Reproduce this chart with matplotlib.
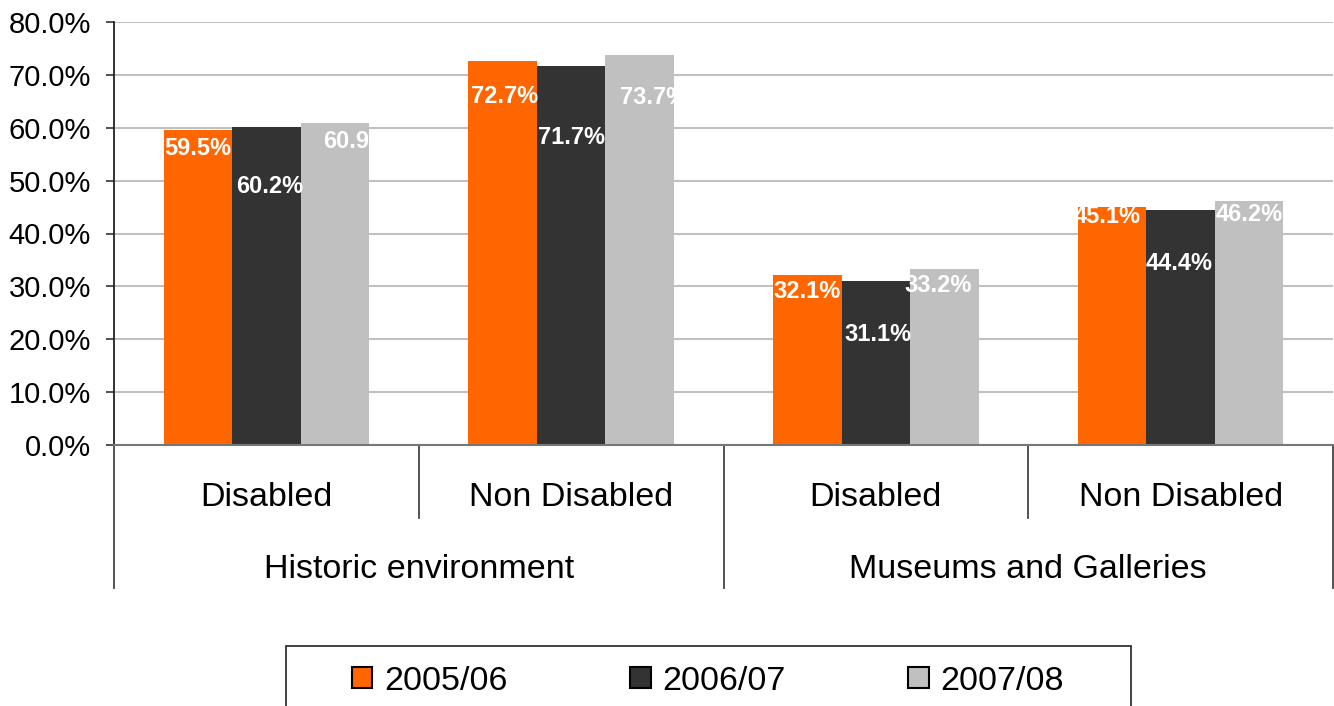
import numpy as np
import matplotlib.pyplot as plt
from matplotlib.patches import Patch, Rectangle
from matplotlib.ticker import FuncFormatter
import matplotlib.transforms as mtransforms

plt.rcParams['font.family'] = ['Liberation Sans', 'DejaVu Sans']

# data
groups = ["Historic environment", "Museums and Galleries"]
subcats = ["Disabled", "Non Disabled", "Disabled", "Non Disabled"]
series = ["2005/06", "2006/07", "2007/08"]
vals_0506 = [59.5, 72.7, 32.1, 45.1]
vals_0607 = [60.2, 71.7, 31.1, 44.4]
vals_0708 = [60.9, 73.7, 33.2, 46.2]

colors = ["#FF6600", "#333333", "#C0C0C0"]
# label nudges in pixels (below bar top, sideways) - labels were hand placed
lab_dy = [[18, 36, 16, 10], [60, 72, 54, 53], [19, 42, 16, 14]]
lab_dx = [[0, 2, 0, -5], [3, 0, 2, -2], [22, 14, -6, 0]]

W, H = 1334, 706
fig = plt.figure(figsize=(W / 100, H / 100), dpi=100)
ax = fig.add_axes([114 / W, 1 - 445 / H, 1219 / W, 423 / H])

x = np.arange(len(subcats))
bw = 0.225
px2pt = 0.72

for i, vals in enumerate([vals_0506, vals_0607, vals_0708]):
    xs = x + (i - 1) * bw
    ax.bar(xs, np.array(vals) / 100, width=bw, color=colors[i], zorder=2, label=series[i])
    for j, v in enumerate(vals):
        ax.annotate(f"{v:.1f}%", (xs[j], v / 100),
                    xytext=(lab_dx[i][j] * px2pt, -lab_dy[i][j] * px2pt),
                    textcoords="offset points", ha="center", va="center",
                    color="white", fontsize=17, fontweight="bold", zorder=3)

ax.set_xlim(-0.5, 3.5)
ax.set_ylim(0, 0.8)
ax.set_yticks(np.arange(0, 0.81, 0.1))
ax.yaxis.set_major_formatter(FuncFormatter(lambda v, p: f"{v * 100:.1f}%"))
ax.tick_params(axis="y", labelsize=21, length=6, width=1.2, pad=10.5, color="#333333")
ax.set_xticks([])
ax.grid(axis="y", color="#C0C0C0", lw=1.5, zorder=0)
ax.set_axisbelow(True)
for s in ["top", "right"]:
    ax.spines[s].set_visible(False)
ax.spines["left"].set_color("#222222")
ax.spines["left"].set_linewidth(1.3)
ax.spines["bottom"].set_color("#777777")
ax.spines["bottom"].set_linewidth(1.5)

# multi-level category axis
trans = mtransforms.blended_transform_factory(ax.transData, ax.transAxes)
for xd in [0.5, 2.5]:
    ax.plot([xd, xd], [0, -0.1726], transform=trans, color="#444444", lw=1.3, clip_on=False)
for xd in [-0.5, 1.5, 3.5]:
    ax.plot([xd, xd], [0, -0.338], transform=trans, color="#444444", lw=1.3, clip_on=False)
for j, name in enumerate(subcats):
    ax.text(x[j], -0.123, name, transform=trans, ha="center", va="center", fontsize=24.5)
for k, name in enumerate(groups):
    ax.text(2 * k + 0.5, -0.294, name, transform=trans, ha="center", va="center", fontsize=24.5)

# legend
fig.patches.append(Rectangle((286 / W, -0.05), (1131 - 286) / W, 0.05 + 1 - 646 / H,
                             transform=fig.transFigure, fill=False, edgecolor="#333333", lw=1.3))
handles = [Patch(facecolor=c, edgecolor="black", lw=1.5) for c in colors]
fig.legend(handles, series, loc="center", bbox_to_anchor=(708 / W, 1 - 681 / H),
           ncol=3, frameon=False, fontsize=24.5, handlelength=0.6, handleheight=0.6,
           handletextpad=0.35, columnspacing=3.6)

fig.savefig("out.png", dpi=100)
